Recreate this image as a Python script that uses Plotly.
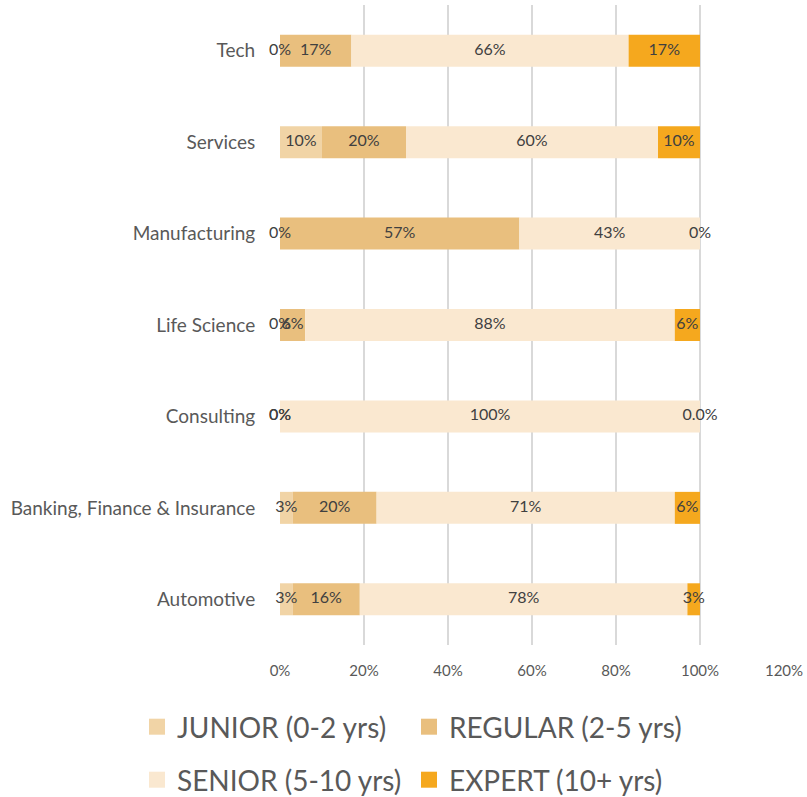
"""
Seniority mix by industry - 100% stacked horizontal bar chart
"""
import numpy as np
import plotly.graph_objects as go

# categories, top to bottom as shown
industries = ['Tech', 'Services', 'Manufacturing', 'Life Science', 'Consulting',
              'Banking, Finance & Insurance', 'Automotive']

# share of each seniority level (%)
junior = [0, 10, 0, 0, 0, 3, 3]
regular = [17, 20, 57, 6, 0, 20, 16]
senior = [66, 60, 43, 88, 100, 71, 78]
expert = [17, 10, 0, 6, 0, 6, 3]

series_names = ['JUNIOR (0-2 yrs)', 'REGULAR (2-5 yrs)', 'SENIOR (5-10 yrs)', 'EXPERT (10+ yrs)']
series_colors = ['#F1D4A6', '#E9BF7E', '#FAE8D0', '#F5A81E']

# Excel printed one label with a different number format
label_overrides = {('EXPERT (10+ yrs)', 'Consulting'): '0.0%'}

FONT = 'Lato'
TEXT_GREY = '#404040'
AXIS_GREY = '#595959'

fig = go.Figure()

all_series = [junior, regular, senior, expert]
starts = np.zeros(len(industries))

for name, color, values in zip(series_names, series_colors, all_series):
    values = np.array(values, dtype=float)
    fig.add_trace(go.Bar(
        y=industries,
        x=values,
        base=starts,
        orientation='h',
        name=name,
        marker=dict(color=color, line=dict(width=0)),
        width=0.35,
        showlegend=False,
        hoverinfo='skip'
    ))

    labels = [label_overrides.get((name, ind), f'{v:.0f}%') for ind, v in zip(industries, values)]
    fig.add_trace(go.Scatter(
        y=industries,
        x=starts + values / 2,
        mode='text',
        text=labels,
        textposition='middle center',
        textfont=dict(family=FONT, size=16, color=TEXT_GREY),
        cliponaxis=False,
        showlegend=False,
        hoverinfo='skip'
    ))
    starts = starts + values

# legend: one small legend per entry (2 x 2 grid), square swatches like Excel
legend_ids = ['legend', 'legend2', 'legend3', 'legend4']
legend_pos = [(137, 727), (409, 727), (137, 780), (409, 780)]  # px, item start / row centre

for name, color, leg in zip(series_names, series_colors, legend_ids):
    fig.add_trace(go.Scatter(
        x=[None], y=[None],
        mode='markers',
        name=name,
        legend=leg,
        marker=dict(symbol='square', size=17, color=color)
    ))

legend_style = dict(
    orientation='h',
    xref='container', yref='container',
    xanchor='left', yanchor='middle',
    font=dict(family=FONT, size=28, color=AXIS_GREY),
    itemsizing='trace',
    bgcolor='rgba(0,0,0,0)',
    borderwidth=0
)
legend_layout = {
    leg: dict(legend_style, x=px / 807, y=1 - py / 797)
    for leg, (px, py) in zip(legend_ids, legend_pos)
}

fig.update_layout(
    width=807,
    height=797,
    margin=dict(l=280, r=23, t=5, b=152),
    paper_bgcolor='white',
    plot_bgcolor='white',
    barmode='overlay',
    font=dict(family=FONT, color=AXIS_GREY),
    xaxis=dict(
        range=[0, 120],
        dtick=20,
        ticksuffix='%',
        showgrid=True,
        gridcolor='#D9D9D9',
        gridwidth=1.5,
        zeroline=False,
        showline=False,
        ticks='outside',
        ticklen=12,
        tickcolor='rgba(0,0,0,0)',
        tickfont=dict(family=FONT, size=15, color=AXIS_GREY),
        fixedrange=True
    ),
    yaxis=dict(
        categoryorder='array',
        categoryarray=industries,
        autorange='reversed',
        showgrid=False,
        zeroline=False,
        showline=False,
        ticks='outside',
        ticklen=20,
        tickcolor='rgba(0,0,0,0)',
        tickfont=dict(family=FONT, size=19, color=AXIS_GREY),
        fixedrange=True
    ),
    **legend_layout
)

# page body has a default 8px margin; drop it so the chart fills the window
fig.write_html(
    "out.html",
    config={'displayModeBar': False},
    post_script="document.body.style.margin = '0';"
)
